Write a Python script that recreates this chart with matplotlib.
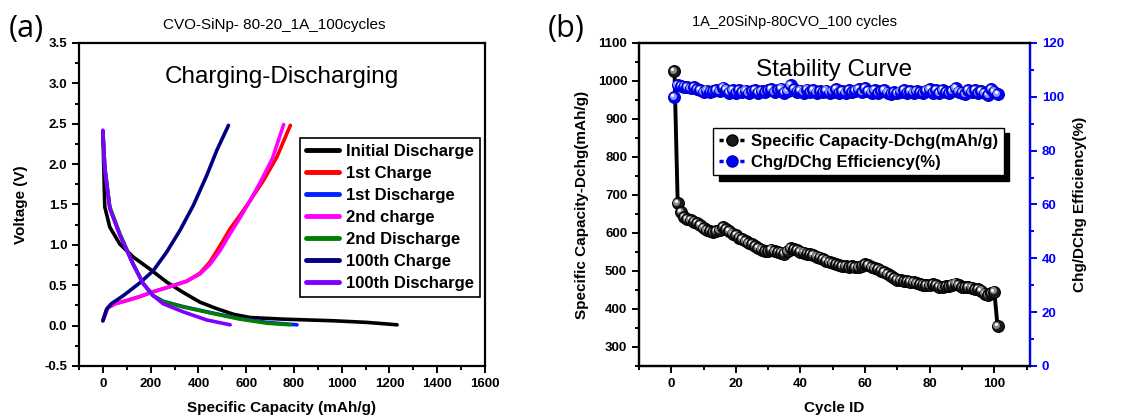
import numpy as np
import matplotlib
matplotlib.use("Agg")
import matplotlib.pyplot as plt
from matplotlib.lines import Line2D
from matplotlib.ticker import MultipleLocator
from matplotlib.transforms import offset_copy

plt.rcParams['font.family'] = ['Liberation Sans', 'DejaVu Sans']

# ---- (a) charge / discharge curves: (capacity mAh/g, voltage V)
init_dis_cap = [0, 8, 29, 71, 127, 197, 267, 337, 407, 477, 547, 617, 757, 966, 1106, 1232]
init_dis_v = [2.41, 1.47, 1.22, 1.01, 0.85, 0.70, 0.54, 0.41, 0.29, 0.21, 0.14, 0.10, 0.08, 0.06, 0.04, 0.01]

ch1_cap = [0, 20, 50, 100, 155, 211, 267, 351, 407, 449, 491, 533, 575, 617, 673, 729, 785]
ch1_v = [0.06, 0.22, 0.27, 0.31, 0.36, 0.42, 0.47, 0.55, 0.65, 0.79, 0.99, 1.20, 1.37, 1.55, 1.80, 2.09, 2.48]

dis1_cap = [0, 8, 29, 71, 127, 169, 211, 253, 337, 477, 575, 687, 813]
dis1_v = [2.41, 1.95, 1.46, 1.13, 0.76, 0.52, 0.37, 0.30, 0.235, 0.145, 0.085, 0.04, 0.01]

ch2_cap = [0, 20, 50, 100, 155, 211, 267, 351, 407, 449, 491, 533, 575, 617, 660, 710, 757]
ch2_v = [0.06, 0.22, 0.27, 0.31, 0.36, 0.42, 0.47, 0.55, 0.64, 0.76, 0.93, 1.14, 1.34, 1.55, 1.78, 2.07, 2.49]

dis2_cap = [0, 8, 29, 71, 127, 169, 211, 253, 337, 477, 575, 687, 785]
dis2_v = [2.41, 1.96, 1.47, 1.14, 0.76, 0.52, 0.37, 0.30, 0.23, 0.14, 0.08, 0.03, 0.01]

ch100_cap = [0, 15, 35, 85, 155, 211, 267, 323, 379, 435, 477, 526]
ch100_v = [0.06, 0.20, 0.27, 0.37, 0.53, 0.68, 0.91, 1.18, 1.49, 1.86, 2.17, 2.48]

dis100_cap = [0, 8, 29, 71, 127, 169, 211, 253, 337, 435, 533]
dis100_v = [2.42, 1.95, 1.45, 1.12, 0.76, 0.52, 0.37, 0.27, 0.17, 0.07, 0.01]

curve_labels = ["Initial Discharge", "1st Charge", "1st Discharge", "2nd charge",
                "2nd Discharge", "100th Charge", "100th Discharge"]
curve_colors = ["black", "red", "#0022ff", "#ff00ff", "#008000", "#000080", "#8000ff"]

# ---- (b) cycling stability
capacity = [1025, 678, 655, 642, 637, 633, 630, 626, 620, 613,
            608, 605, 603, 604, 608, 616, 611, 604, 598, 594,
            588, 583, 578, 574, 570, 566, 561, 556, 552, 553,
            556, 553, 550, 548, 546, 552, 560, 557, 554, 551,
            548, 546, 544, 541, 538, 535, 531, 527, 523, 520,
            518, 515, 513, 512, 511, 513, 511, 510, 514, 518,
            515, 511, 507, 504, 501, 497, 492, 486, 481, 477,
            475, 474, 474, 472, 470, 468, 466, 464, 462, 463,
            465, 462, 459, 458, 460, 461, 464, 467, 462, 458,
            457, 458, 456, 453, 452, 448, 440, 437, 441, 446,
            355]
efficiency = [100.0, 104.3, 104.0, 103.8, 103.6, 103.3, 103.5, 102.8, 102.4, 101.7,
              102.3, 101.9, 102.2, 102.6, 102.1, 103.4, 102.7, 101.6, 102.4, 101.5,
              102.6, 101.8, 102.3, 101.4, 102.0, 102.5, 101.5, 102.1, 101.7, 102.5,
              102.9, 101.8, 102.4, 103.0, 101.5, 102.2, 104.4, 102.8, 101.9, 102.3,
              101.5, 102.7, 101.8, 102.4, 101.6, 102.1, 101.7, 102.3, 101.5, 101.9,
              102.8, 101.6, 102.2, 101.5, 102.6, 101.8, 102.3, 102.9, 101.7, 103.1,
              102.2, 101.6, 102.5, 101.4, 102.0, 102.6, 101.5, 101.2, 101.8, 101.3,
              101.9, 102.4, 101.6, 102.1, 101.5, 102.0, 101.7, 101.4, 102.3, 102.8,
              101.5, 102.6, 101.3, 102.5, 101.8, 101.4, 102.2, 103.2, 101.9, 101.5,
              101.1, 102.4, 101.7, 102.6, 101.3, 102.0, 101.4, 100.5, 102.8, 101.9,
              101.0]
cycles = np.arange(1, len(capacity) + 1)

fig = plt.figure(figsize=(11.43, 4.19), dpi=100)


def style_axis(ax):
    for s in ax.spines.values():
        s.set_linewidth(1.6)
    ax.tick_params(which='both', direction='out', width=1.4, top=False, right=False)
    ax.tick_params(which='major', length=5)
    ax.tick_params(which='minor', length=3)
    for lab in ax.get_xticklabels() + ax.get_yticklabels():
        lab.set_fontweight('bold')
        lab.set_fontsize(9.5)


# ================= panel (a)
ax1 = fig.add_axes([0.0691, 0.1265, 0.3552, 0.7709])
curves = [(init_dis_cap, init_dis_v), (ch1_cap, ch1_v), (dis1_cap, dis1_v), (ch2_cap, ch2_v),
          (dis2_cap, dis2_v), (ch100_cap, ch100_v), (dis100_cap, dis100_v)]
for (cx, cy), lab, col in zip(curves, curve_labels, curve_colors):
    ax1.plot(cx, cy, color=col, lw=2.6, label=lab, solid_capstyle='round')

ax1.set_xlim(-100, 1600)
ax1.set_ylim(-0.5, 3.5)
ax1.xaxis.set_minor_locator(MultipleLocator(100))
ax1.yaxis.set_minor_locator(MultipleLocator(0.25))
ax1.set_xticks(np.arange(0, 1601, 200))
ax1.set_yticks(np.arange(-0.5, 3.51, 0.5))
ax1.set_yticklabels([f"{v:.1f}" for v in ax1.get_yticks()])
style_axis(ax1)
ax1.set_xlabel("Specific Capacity (mAh/g)", fontsize=11, fontweight='bold', labelpad=8)
ax1.set_ylabel("Voltage (V)", fontsize=11, fontweight='bold', labelpad=12)
ax1.text(0.5, 0.895, "Charging-Discharging", transform=ax1.transAxes,
         ha='center', va='center', fontsize=17.5)
leg1 = ax1.legend(loc='upper left', bbox_to_anchor=(0.544, 0.706), borderaxespad=0,
                  fancybox=False, edgecolor='black', framealpha=1,
                  prop=dict(weight='bold', size=12), handlelength=2.0,
                  handletextpad=0.4, labelspacing=0.42, borderpad=0.35)
leg1.get_frame().set_linewidth(1.2)
for h in leg1.get_lines():
    h.set_linewidth(3.5)

# ================= panel (b)
ax2 = fig.add_axes([0.559, 0.1265, 0.342, 0.7709])
ax3 = ax2.twinx()

hl_tr2 = offset_copy(ax2.transData, fig=fig, x=-1.3, y=1.3, units='dots')
wt_tr2 = offset_copy(ax2.transData, fig=fig, x=-2.0, y=2.0, units='dots')
hl_tr3 = offset_copy(ax3.transData, fig=fig, x=-1.3, y=1.3, units='dots')
wt_tr3 = offset_copy(ax3.transData, fig=fig, x=-2.0, y=2.0, units='dots')

ax2.plot(cycles, capacity, color='black', lw=2.8, zorder=2)
for cx, cy in zip(cycles, capacity):
    ax2.plot(cx, cy, 'o', ms=8.5, mfc='#1a1a1a', mec='black', mew=0.8, zorder=3)
    ax2.plot(cx, cy, 'o', ms=5, mfc='#8a8a8a', mec='none', transform=hl_tr2, zorder=3)
    ax2.plot(cx, cy, 'o', ms=2.2, mfc='white', mec='none', transform=wt_tr2, zorder=3)

ax3.plot(cycles, efficiency, color='#0000ff', lw=2.2, zorder=2)
for cx, cy in zip(cycles, efficiency):
    ax3.plot(cx, cy, 'o', ms=8.5, mfc='#0000ff', mec='#0000c8', mew=0.8, zorder=3)
    ax3.plot(cx, cy, 'o', ms=5, mfc='#8d9bff', mec='none', transform=hl_tr3, zorder=3)
    ax3.plot(cx, cy, 'o', ms=2.2, mfc='white', mec='none', transform=wt_tr3, zorder=3)

ax2.set_xlim(-10, 111)
ax2.set_ylim(250, 1100)
ax3.set_ylim(0, 120)
ax2.xaxis.set_minor_locator(MultipleLocator(10))
ax2.set_xticks(np.arange(0, 101, 20))
ax2.yaxis.set_minor_locator(MultipleLocator(50))
ax2.set_yticks(np.arange(300, 1101, 100))
ax3.set_yticks(np.arange(0, 121, 20))
ax3.yaxis.set_minor_locator(MultipleLocator(10))
style_axis(ax2)
for s in ax3.spines.values():
    s.set_linewidth(1.6)
ax3.spines['right'].set_color('#0000ff')
ax3.tick_params(axis='y', which='both', direction='out', colors='#0000ff', width=1.4)
ax3.tick_params(axis='y', which='major', length=5)
ax3.tick_params(axis='y', which='minor', length=3)
for lab in ax3.get_yticklabels():
    lab.set_fontweight('bold')
    lab.set_fontsize(9.5)
    lab.set_color('#0000ff')

ax2.set_xlabel("Cycle ID", fontsize=11, fontweight='bold', labelpad=8)
ax2.set_ylabel("Specific Capacity-Dchg(mAh/g)", fontsize=11, fontweight='bold', labelpad=6)
ax3.set_ylabel("Chg/DChg Efficiency(%)", fontsize=11, fontweight='bold', labelpad=7)
ax2.text(0.5, 0.916, "Stability Curve", transform=ax2.transAxes,
         ha='center', va='center', fontsize=17.5, zorder=5)

handles = [Line2D([], [], color='black', ls=(0, (1.2, 0.8)), lw=2.5, marker='o', ms=8,
                  mfc='#1a1a1a', mec='black'),
           Line2D([], [], color='#0000ff', ls=(0, (1.2, 0.8)), lw=2.5, marker='o', ms=8,
                  mfc='#0000ff', mec='#0000c8')]
leg2 = ax3.legend(handles, ["Specific Capacity-Dchg(mAh/g)", "Chg/DChg Efficiency(%)"],
                  loc='upper left', bbox_to_anchor=(0.19, 0.737), borderaxespad=0,
                  fancybox=False, edgecolor='black', framealpha=1,
                  shadow={'color': 'black', 'alpha': 1, 'ox': 4, 'oy': -4},
                  prop=dict(weight='bold', size=12), handlelength=1.6,
                  handletextpad=0.3, labelspacing=0.35, borderpad=0.35)
leg2.get_frame().set_linewidth(1.0)

# panel letters and run titles
fig.text(0.008, 0.93, "(a)", fontsize=22, family=['Open Sans', 'DejaVu Sans'], va='center')
fig.text(0.479, 0.93, "(b)", fontsize=22, family=['Open Sans', 'DejaVu Sans'], va='center')
fig.text(0.2403, 0.94, "CVO-SiNp- 80-20_1A_100cycles", fontsize=11, ha='center', va='center')
fig.text(0.6947, 0.947, "1A_20SiNp-80CVO_100 cycles", fontsize=10.5, ha='center', va='center')

fig.savefig("out.png", dpi=100)
